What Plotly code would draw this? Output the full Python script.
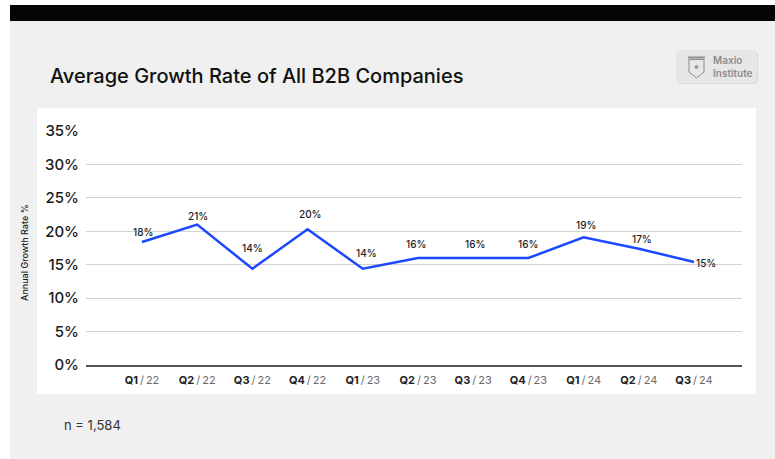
import plotly.graph_objects as go

# Chart data
quarters = ["Q1", "Q2", "Q3", "Q4", "Q1", "Q2", "Q3", "Q4", "Q1", "Q2", "Q3"]
years = ["22", "22", "22", "22", "23", "23", "23", "23", "24", "24", "24"]
growth_rate = [18.4, 21.0, 14.4, 20.3, 14.4, 16.0, 16.0, 16.0, 19.1, 17.4, 15.4]
y_ticks = [0, 5, 10, 15, 20, 25, 30, 35]

W, H = 775, 459


def px(x):
    return x / W


def py(y):
    return 1 - y / H


# label offsets (pixels) relative to each point
label_dx = [1, 1, 0, 3, 4, -2, 2, 0, 2, 3, 12]
label_dy = [-10, -9, -21, -15, -16, -14, -14, -14, -12, -10, 1]

idx = list(range(len(quarters)))
tick_text = [
    f"<b>{q}</b><span style='color:#6a6a6a'>\u2009/\u2009{y}</span>" for q, y in zip(quarters, years)
]

FONT = "Inter"
BLUE = "#1c48ff"

fig = go.Figure()
fig.add_trace(
    go.Scatter(
        x=idx,
        y=growth_rate,
        mode="lines",
        line=dict(color=BLUE, width=2.5),
        hoverinfo="skip",
        showlegend=False,
    )
)

annotations = []
for i, v in enumerate(growth_rate):
    annotations.append(
        dict(
            x=i, y=v, xref="x", yref="y",
            text=f"{round(v):.0f}%",
            showarrow=False,
            xshift=label_dx[i], yshift=-label_dy[i],
            font=dict(family=FONT, size=10, color="#222222", weight=500),
        )
    )

# Title
annotations.append(
    dict(
        x=px(48), y=py(76), xref="paper", yref="paper",
        xanchor="left", yanchor="middle",
        text="Average Growth Rate of All B2B Companies",
        showarrow=False,
        font=dict(family=FONT, size=20, color="#111111", weight=500),
    )
)
# Y axis title
annotations.append(
    dict(
        x=px(25), y=py(253), xref="paper", yref="paper",
        xanchor="center", yanchor="middle",
        text="Annual Growth Rate %", textangle=-90,
        showarrow=False,
        font=dict(family=FONT, size=9, color="#222222", weight=500),
    )
)
# Sample size note
annotations.append(
    dict(
        x=px(62), y=py(425), xref="paper", yref="paper",
        xanchor="left", yanchor="middle",
        text="n = 1,584",
        showarrow=False,
        font=dict(family=FONT, size=13, color="#333333"),
    )
)
# Logo text
annotations.append(
    dict(
        x=px(711), y=py(66.5), xref="paper", yref="paper",
        xanchor="left", yanchor="middle", align="left",
        text="Maxio<br>Institute",
        showarrow=False,
        font=dict(family=FONT, size=10, color="#8c8c8c", weight=600),
    )
)


def rect(x0, y0, x1, y1, fill, layer="below"):
    return dict(
        type="rect", xref="paper", yref="paper",
        x0=px(x0), x1=px(x1), y0=py(y1), y1=py(y0),
        fillcolor=fill,
        line=dict(width=0),
        layer=layer,
    )


def rounded(x0, y0, x1, y1, r):
    pts = (
        f"M {px(x0 + r)},{py(y0)} L {px(x1 - r)},{py(y0)} "
        f"Q {px(x1)},{py(y0)} {px(x1)},{py(y0 + r)} "
        f"L {px(x1)},{py(y1 - r)} Q {px(x1)},{py(y1)} {px(x1 - r)},{py(y1)} "
        f"L {px(x0 + r)},{py(y1)} Q {px(x0)},{py(y1)} {px(x0)},{py(y1 - r)} "
        f"L {px(x0)},{py(y0 + r)} Q {px(x0)},{py(y0)} {px(x0 + r)},{py(y0)} Z"
    )
    return pts


shapes = [
    rect(10, 21, W + 2, H + 2, "#eff0ef"),
    rect(10, 5, W + 2, 21, "#050505"),
    rect(37, 108, 756, 394, "#ffffff"),
    # logo badge shadow + body
    dict(type="path", xref="paper", yref="paper", path=rounded(677, 51, 758, 84, 4),
         fillcolor="#d9d9d9", line=dict(width=0), layer="below"),
    dict(type="path", xref="paper", yref="paper", path=rounded(676, 50, 757, 83, 4),
         fillcolor="#e7e7e7", line=dict(width=0), layer="below"),
    # shield icon
    dict(type="line", xref="paper", yref="paper",
         x0=px(688), x1=px(705), y0=py(57.5), y1=py(57.5),
         line=dict(color="#8c8c8c", width=2), layer="above"),
    dict(type="path", xref="paper", yref="paper",
         path=(f"M {px(689)},{py(59.5)} L {px(689)},{py(72)} L {px(696.5)},{py(78)} "
               f"L {px(704)},{py(72)} L {px(704)},{py(59.5)} Z"),
         fillcolor="rgba(0,0,0,0)", line=dict(color="#8c8c8c", width=1), layer="above"),
    dict(type="circle", xref="paper", yref="paper",
         x0=px(694.5), x1=px(698.5), y0=py(69), y1=py(65),
         fillcolor="#9a9a9a", line=dict(width=0), layer="above"),
]

fig.update_layout(
    width=W,
    height=H,
    margin=dict(l=0, r=0, t=0, b=0, pad=0, autoexpand=False),
    paper_bgcolor="#ffffff",
    plot_bgcolor="#ffffff",
    showlegend=False,
    shapes=shapes,
    annotations=annotations,
    xaxis=dict(
        domain=[px(86), px(742)],
        range=[-1.014, 10.87],
        tickmode="array",
        tickvals=idx,
        ticktext=tick_text,
        showgrid=False,
        zeroline=False,
        showline=True,
        linecolor="#555555",
        linewidth=2,
        ticks="",
        automargin=False,
        ticklabelstandoff=4,
        tickfont=dict(family=FONT, size=11, color="#222222"),
    ),
    yaxis=dict(
        domain=[py(365), py(131)],
        range=[0, 35],
        tickmode="array",
        tickvals=y_ticks,
        ticktext=[f"{v}%" for v in y_ticks],
        showgrid=True,
        gridcolor="#d2d2d2",
        gridwidth=1,
        zeroline=False,
        showline=False,
        ticks="",
        automargin=False,
        ticklabelstandoff=6,
        tickfont=dict(family=FONT, size=15, color="#1a1a1a", weight=500),
    ),
)

fig.write_html("out.html")
